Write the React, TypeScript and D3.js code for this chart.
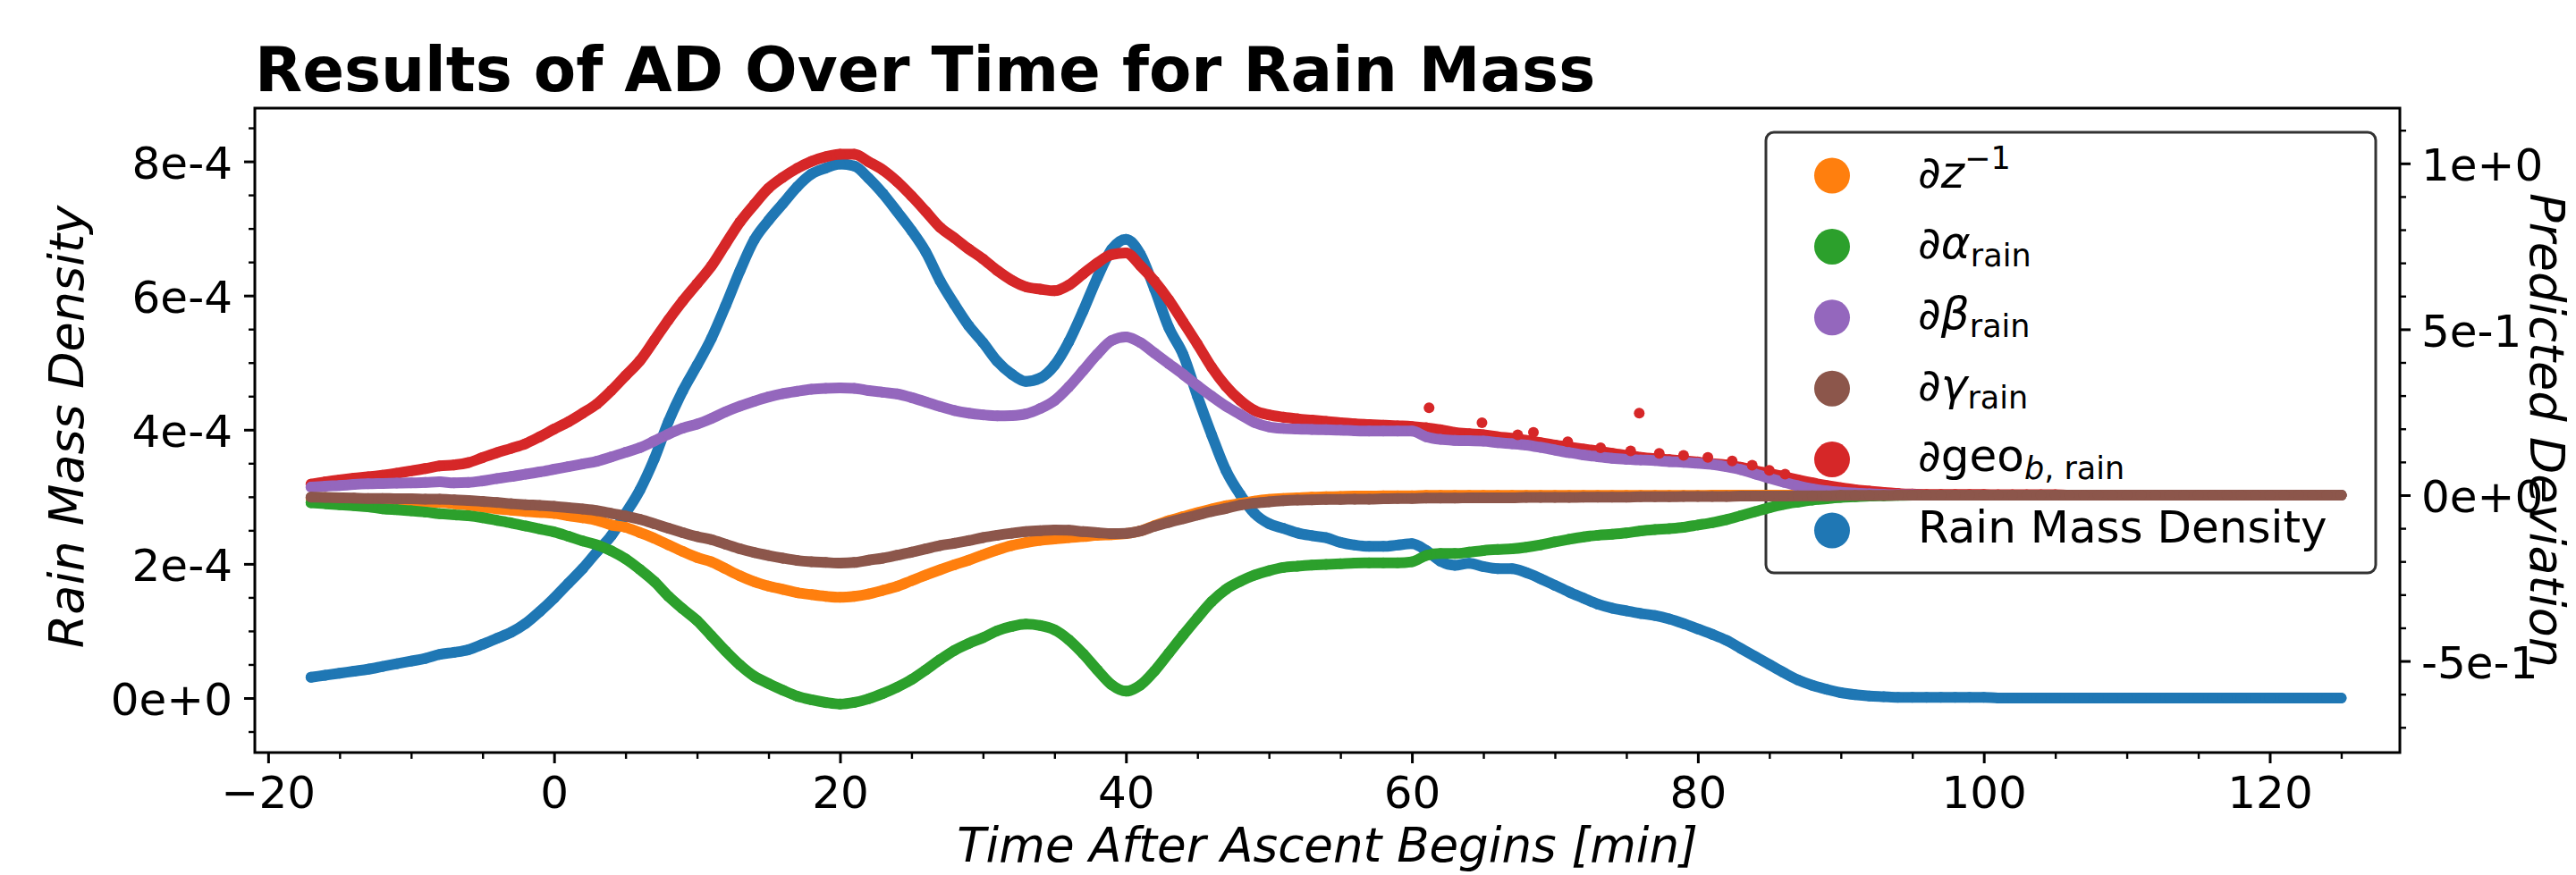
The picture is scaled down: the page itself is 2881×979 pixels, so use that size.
import { useEffect, useRef } from 'react';
import * as d3 from 'd3';

const WIDTH = 2881;
const HEIGHT = 979;
const FONT = '"DejaVu Sans", sans-serif';

// samples every minute, from -17 min to 125 min
const T_START = -17;
const T_STEP = 1;

// Rain mass density, in units of 1e-4 (left axis)
const rainMassDensity = [
  0.31, 0.34, 0.37, 0.40, 0.43, 0.47, 0.51, 0.55, 0.59, 0.65, 0.68, 0.72, 0.80, 0.89, 0.98, 1.11, 1.29, // -17..-1
  1.49, 1.71, 1.93, 2.18, 2.42, 2.75, 3.10, 3.56, 4.12, 4.58, 4.96, 5.36, 5.85, 6.37, 6.83, 7.12, 7.37, 7.62, 7.81, 7.90, 7.96, 7.93, // 0..21
  7.75, 7.52, 7.25, 6.97, 6.65, 6.22, 5.87, 5.55, 5.30, 5.02, 4.83, 4.72, 4.77, 4.96, 5.31, 5.77, 6.27, 6.69, 6.84, // 22..40
  6.62, 6.10, 5.52, 5.12, 4.50, 3.92, 3.39, 3.03, 2.75, 2.60, 2.53, 2.46, 2.42, 2.39, 2.32, 2.28, 2.26, 2.26, 2.28, 2.30, // 41..60
  2.20, 2.04, 1.98, 2.01, 1.96, 1.93, 1.93, 1.87, 1.78, 1.68, 1.58, 1.49, 1.40, 1.34, 1.30, 1.26, 1.23, 1.18, 1.11, 1.03, // 61..80
  0.95, 0.86, 0.74, 0.62, 0.50, 0.38, 0.27, 0.19, 0.13, 0.08, 0.05, 0.03, 0.02, 0.01, 0.01, // 81..95
  0.01, 0.01, 0.01, 0.01, 0.01, 0, 0, 0, 0, 0, 0, 0, 0, 0, 0, 0, 0, 0, 0, 0, 0, 0, 0, 0, 0, 0, 0, 0, 0, 0, // 96..125
];

// Predicted deviations (right axis)
const dInvZ = [
  -0.010, -0.011, -0.012, -0.014, -0.015, -0.017, -0.018, -0.019, -0.020, -0.022, -0.026, -0.030, -0.036, -0.041, -0.045, -0.049, -0.052,
  -0.055, -0.062, -0.068, -0.076, -0.090, -0.097, -0.113, -0.130, -0.150, -0.170, -0.188, -0.201, -0.222, -0.243, -0.261, -0.274, -0.284, -0.294, -0.300, -0.305, -0.308, -0.305,
  -0.298, -0.287, -0.275, -0.258, -0.241, -0.225, -0.210, -0.196, -0.180, -0.165, -0.152, -0.143, -0.136, -0.132, -0.128, -0.125, -0.121, -0.119, -0.116,
  -0.108, -0.092, -0.077, -0.065, -0.053, -0.042, -0.032, -0.025, -0.018, -0.013, -0.010, -0.008, -0.006, -0.005, -0.004, -0.003, -0.003, -0.002, -0.002, -0.002,
  -0.001, -0.001, -0.001, -0.001, -0.001, -0.001, -0.001, -0.001, -0.001, -0.001, -0.001, -0.001, -0.001, -0.001, -0.001, -0.001, -0.001, -0.001, -0.001, -0.001,
  0, 0, 0, 0, 0, 0, 0, 0, 0, 0, 0, 0, 0, 0, 0,
  0, 0, 0, 0, 0, 0, 0, 0, 0, 0, 0, 0, 0, 0, 0, 0, 0, 0, 0, 0, 0, 0, 0, 0, 0, 0, 0, 0, 0, 0,
];

const dAlpha = [
  -0.023, -0.026, -0.029, -0.032, -0.035, -0.041, -0.044, -0.047, -0.051, -0.056, -0.059, -0.062, -0.068, -0.076, -0.084, -0.093, -0.102,
  -0.111, -0.124, -0.138, -0.150, -0.168, -0.192, -0.224, -0.260, -0.305, -0.343, -0.378, -0.424, -0.470, -0.512, -0.546, -0.568, -0.588, -0.606, -0.617, -0.625, -0.630, -0.625,
  -0.614, -0.598, -0.579, -0.556, -0.527, -0.496, -0.468, -0.447, -0.430, -0.409, -0.396, -0.389, -0.393, -0.406, -0.436, -0.478, -0.527, -0.572, -0.591,
  -0.573, -0.530, -0.476, -0.422, -0.370, -0.321, -0.284, -0.260, -0.241, -0.228, -0.218, -0.214, -0.211, -0.209, -0.207, -0.205, -0.204, -0.204, -0.204, -0.201,
  -0.182, -0.176, -0.176, -0.172, -0.167, -0.164, -0.162, -0.157, -0.150, -0.141, -0.133, -0.126, -0.121, -0.118, -0.114, -0.108, -0.104, -0.101, -0.097, -0.090,
  -0.083, -0.074, -0.062, -0.050, -0.038, -0.028, -0.021, -0.015, -0.011, -0.007, -0.005, -0.003, -0.002, -0.001, 0,
  0, 0, 0, 0, 0, 0, 0, 0, 0, 0, 0, 0, 0, 0, 0, 0, 0, 0, 0, 0, 0, 0, 0, 0, 0, 0, 0, 0, 0, 0,
];

const dBeta = [
  0.024, 0.027, 0.029, 0.032, 0.034, 0.035, 0.036, 0.037, 0.038, 0.040, 0.037, 0.038, 0.043, 0.050, 0.056, 0.063, 0.070,
  0.078, 0.086, 0.094, 0.102, 0.115, 0.129, 0.143, 0.163, 0.184, 0.202, 0.214, 0.231, 0.251, 0.268, 0.283, 0.296, 0.306, 0.313, 0.319, 0.322, 0.323, 0.322,
  0.315, 0.310, 0.305, 0.294, 0.281, 0.267, 0.255, 0.247, 0.242, 0.239, 0.240, 0.245, 0.261, 0.285, 0.326, 0.375, 0.425, 0.466, 0.477,
  0.460, 0.428, 0.396, 0.364, 0.330, 0.298, 0.268, 0.243, 0.219, 0.206, 0.201, 0.199, 0.198, 0.197, 0.196, 0.194, 0.193, 0.193, 0.193, 0.193,
  0.176, 0.168, 0.165, 0.164, 0.163, 0.158, 0.155, 0.151, 0.144, 0.136, 0.128, 0.121, 0.116, 0.111, 0.108, 0.106, 0.104, 0.101, 0.099, 0.096,
  0.093, 0.086, 0.077, 0.064, 0.051, 0.039, 0.028, 0.019, 0.013, 0.009, 0.006, 0.004, 0.002, 0.001, 0.001,
  0, 0, 0, 0, 0, 0, 0, 0, 0, 0, 0, 0, 0, 0, 0, 0, 0, 0, 0, 0, 0, 0, 0, 0, 0, 0, 0, 0, 0, 0,
];

const dGamma = [
  -0.006, -0.007, -0.008, -0.009, -0.010, -0.010, -0.011, -0.011, -0.012, -0.012, -0.014, -0.016, -0.019, -0.022, -0.026, -0.029, -0.031,
  -0.034, -0.038, -0.042, -0.047, -0.055, -0.063, -0.073, -0.086, -0.100, -0.113, -0.125, -0.134, -0.148, -0.162, -0.173, -0.182, -0.190, -0.197, -0.201, -0.203, -0.205, -0.203,
  -0.196, -0.190, -0.181, -0.172, -0.162, -0.152, -0.145, -0.137, -0.128, -0.121, -0.115, -0.110, -0.107, -0.105, -0.106, -0.110, -0.113, -0.116, -0.115,
  -0.108, -0.094, -0.082, -0.071, -0.060, -0.049, -0.040, -0.030, -0.024, -0.020, -0.017, -0.015, -0.014, -0.013, -0.013, -0.012, -0.012, -0.011, -0.010, -0.010,
  -0.009, -0.009, -0.009, -0.008, -0.008, -0.008, -0.008, -0.007, -0.007, -0.007, -0.007, -0.006, -0.006, -0.006, -0.006, -0.005, -0.005, -0.005, -0.004, -0.004,
  -0.004, -0.004, -0.003, -0.003, -0.003, -0.003, -0.002, -0.002, -0.002, -0.001, -0.001, -0.001, -0.001, 0, 0,
  0, 0, 0, 0, 0, 0, 0, 0, 0, 0, 0, 0, 0, 0, 0, 0, 0, 0, 0, 0, 0, 0, 0, 0, 0, 0, 0, 0, 0, 0,
];

const dGeo = [
  0.033, 0.040, 0.046, 0.051, 0.055, 0.060, 0.066, 0.073, 0.080, 0.088, 0.091, 0.098, 0.113, 0.128, 0.141, 0.155, 0.176,
  0.199, 0.221, 0.247, 0.275, 0.315, 0.360, 0.405, 0.466, 0.528, 0.585, 0.637, 0.690, 0.757, 0.823, 0.876, 0.925, 0.958, 0.985, 1.006, 1.020, 1.028, 1.028,
  1.005, 0.980, 0.945, 0.902, 0.855, 0.807, 0.775, 0.742, 0.712, 0.677, 0.648, 0.628, 0.621, 0.616, 0.633, 0.667, 0.700, 0.725, 0.730,
  0.692, 0.645, 0.588, 0.522, 0.455, 0.385, 0.328, 0.285, 0.255, 0.242, 0.235, 0.230, 0.226, 0.222, 0.218, 0.215, 0.213, 0.211, 0.209, 0.207,
  0.203, 0.197, 0.189, 0.185, 0.182, 0.176, 0.171, 0.165, 0.158, 0.151, 0.145, 0.139, 0.133, 0.126, 0.120, 0.114, 0.110, 0.107, 0.104, 0.100,
  0.095, 0.091, 0.084, 0.074, 0.065, 0.056, 0.046, 0.037, 0.029, 0.022, 0.016, 0.012, 0.008, 0.005, 0.003,
  0.002, 0.002, 0.002, 0.002, 0.002, 0.001, 0.001, 0.001, 0.001, 0.001, 0, 0, 0, 0, 0, 0, 0, 0, 0, 0, 0, 0, 0, 0, 0, 0, 0, 0, 0, 0,
];

// stray dGeo points sitting above its band: [time, value]
const geoStrays = [
  [61.2, 0.263], [64.9, 0.218], [67.4, 0.182], [68.5, 0.189], [70.9, 0.161], [73.2, 0.143], [75.3, 0.133],
  [75.9, 0.247], [77.3, 0.126], [79.0, 0.120], [80.7, 0.114], [82.4, 0.103], [83.8, 0.090], [85.0, 0.075], [86.1, 0.063],
];

const xTicks = [-20, 0, 20, 40, 60, 80, 100, 120];
const leftTicks = [0, 2, 4, 6, 8];
const leftTickLabels = ['0e+0', '2e-4', '4e-4', '6e-4', '8e-4'];
const rightTicks = [-0.5, 0, 0.5, 1];
const rightTickLabels = ['-5e-1', '0e+0', '5e-1', '1e+0'];

const COLORS = {
  z: '#ff7f0e',
  alpha: '#2ca02c',
  beta: '#9467bd',
  gamma: '#8c564b',
  geo: '#d62728',
  rain: '#1f77b4',
};

// drawing order of the twin-axis series (last one on top)
const deviationSeries = [
  { values: dGeo, color: COLORS.geo },
  { values: dInvZ, color: COLORS.z },
  { values: dAlpha, color: COLORS.alpha },
  { values: dBeta, color: COLORS.beta },
  { values: dGamma, color: COLORS.gamma },
];

const legendItems = [
  { color: COLORS.z, parts: [{ t: '∂' }, { t: 'z', i: true }, { t: '−1', s: 'sup' }] },
  { color: COLORS.alpha, parts: [{ t: '∂' }, { t: 'α', i: true }, { t: 'rain', s: 'sub' }] },
  { color: COLORS.beta, parts: [{ t: '∂' }, { t: 'β', i: true }, { t: 'rain', s: 'sub' }] },
  { color: COLORS.gamma, parts: [{ t: '∂' }, { t: 'γ', i: true }, { t: 'rain', s: 'sub' }] },
  { color: COLORS.geo, parts: [{ t: '∂geo' }, { t: 'b', i: true, s: 'sub' }, { t: ', rain', s: 'sub' }] },
  { color: COLORS.rain, parts: [{ t: 'Rain Mass Density' }] },
];

const App = () => {
  const svgRef = useRef(null);

  useEffect(() => {
    document.body.style.margin = '0';
    document.body.style.overflow = 'hidden';

    const svg = d3.select(svgRef.current);
    svg.selectAll('*').remove();

    const left = 285, right = 2684, top = 121, bottom = 842;

    const x = d3.scaleLinear().domain([-20.93, 129.1]).range([left, right]);
    const yLeft = d3.scaleLinear().domain([-0.813, 8.794]).range([bottom, top]);
    const yRight = d3.scaleLinear().domain([-0.776, 1.1665]).range([bottom, top]);

    const drawSeries = (values, y, color) => {
      const pts = values.map((v, i) => [T_START + i * T_STEP, v]);
      const g = svg.append('g');
      g.append('path')
        .datum(pts)
        .attr('d', d3.line().x(d => x(d[0])).y(d => y(d[1])).curve(d3.curveMonotoneX))
        .attr('fill', 'none')
        .attr('stroke', color)
        .attr('stroke-width', 12)
        .attr('stroke-linecap', 'round')
        .attr('stroke-linejoin', 'round');
      g.selectAll('circle')
        .data(pts)
        .join('circle')
        .attr('cx', d => x(d[0]))
        .attr('cy', d => y(d[1]))
        .attr('r', 6)
        .attr('fill', color);
    };

    // left axes data first
    drawSeries(rainMassDensity, yLeft, COLORS.rain);

    // legend belongs to the left axes, so the twin data goes over it
    const legend = svg.append('g');
    legend.append('rect')
      .attr('x', 1975).attr('y', 148)
      .attr('width', 682).attr('height', 493)
      .attr('rx', 9)
      .attr('fill', '#fff').attr('fill-opacity', 0.8)
      .attr('stroke', '#000').attr('stroke-opacity', 0.8).attr('stroke-width', 3);

    legendItems.forEach((item, i) => {
      const cy = 196.5 + i * 79.4;
      legend.append('circle').attr('cx', 2049).attr('cy', cy).attr('r', 20).attr('fill', item.color);
      const text = legend.append('text')
        .attr('x', 2145).attr('y', cy + 13)
        .attr('font-family', FONT).attr('font-size', 50).attr('fill', '#000');
      let shift = 0;
      item.parts.forEach(p => {
        const target = p.s === 'sub' ? 9 : p.s === 'sup' ? -21 : 0;
        const span = text.append('tspan').text(p.t).attr('dy', target - shift);
        shift = target;
        if (p.s) span.attr('font-size', 35);
        if (p.i) span.attr('font-style', 'italic');
      });
    });

    deviationSeries.forEach(s => drawSeries(s.values, yRight, s.color));

    svg.append('g').selectAll('circle')
      .data(geoStrays)
      .join('circle')
      .attr('cx', d => x(d[0]))
      .attr('cy', d => yRight(d[1]))
      .attr('r', 6)
      .attr('fill', COLORS.geo);

    // axes
    const styleAxis = (g, width) => {
      g.select('.domain').remove();
      g.attr('font-family', FONT).attr('font-size', 50);
      g.selectAll('line').attr('stroke', '#000').attr('stroke-width', width);
      g.selectAll('text').attr('fill', '#000');
    };

    const xMinor = d3.range(-20, 130, 5).filter(v => v % 20 !== 0);
    const leftMinor = d3.range(-0.5, 8.8, 0.5).filter(v => Math.abs(v % 2) > 1e-9);
    const rightMinor = d3.range(-7, 12, 1).map(v => v / 10).filter(v => Math.abs((v * 10) % 5) > 1e-9);

    svg.append('g')
      .attr('transform', `translate(0,${bottom})`)
      .call(d3.axisBottom(x).tickValues(xMinor).tickSize(7).tickFormat(() => ''))
      .call(g => styleAxis(g, 2.4));
    svg.append('g')
      .attr('transform', `translate(0,${bottom})`)
      .call(d3.axisBottom(x).tickValues(xTicks).tickSize(12).tickPadding(14).tickFormat(d3.format('d')))
      .call(g => styleAxis(g, 3));

    svg.append('g')
      .attr('transform', `translate(${left},0)`)
      .call(d3.axisLeft(yLeft).tickValues(leftMinor).tickSize(7).tickFormat(() => ''))
      .call(g => styleAxis(g, 2.4));
    svg.append('g')
      .attr('transform', `translate(${left},0)`)
      .call(d3.axisLeft(yLeft).tickValues(leftTicks).tickSize(12).tickPadding(13)
        .tickFormat((d, i) => leftTickLabels[i]))
      .call(g => styleAxis(g, 3))
      .call(g => g.selectAll('text').attr('dy', '0.38em'));

    svg.append('g')
      .attr('transform', `translate(${right},0)`)
      .call(d3.axisRight(yRight).tickValues(rightMinor).tickSize(7).tickFormat(() => ''))
      .call(g => styleAxis(g, 2.4));
    svg.append('g')
      .attr('transform', `translate(${right},0)`)
      .call(d3.axisRight(yRight).tickValues(rightTicks).tickSize(12).tickPadding(12)
        .tickFormat((d, i) => rightTickLabels[i]))
      .call(g => styleAxis(g, 3))
      .call(g => g.selectAll('text').attr('dy', '0.38em'));

    // frame
    svg.append('rect')
      .attr('x', left).attr('y', top)
      .attr('width', right - left).attr('height', bottom - top)
      .attr('fill', 'none').attr('stroke', '#000').attr('stroke-width', 3);

    // labels
    svg.append('text')
      .attr('x', left).attr('y', 102)
      .attr('font-family', FONT).attr('font-size', 69).attr('font-weight', 'bold')
      .text('Results of AD Over Time for Rain Mass');

    svg.append('text')
      .attr('x', (left + right) / 2).attr('y', 964)
      .attr('text-anchor', 'middle')
      .attr('font-family', FONT).attr('font-size', 53).attr('font-style', 'italic')
      .text('Time After Ascent Begins [min]');

    svg.append('text')
      .attr('transform', `translate(93,${(top + bottom) / 2 - 4}) rotate(-90)`)
      .attr('text-anchor', 'middle')
      .attr('font-family', FONT).attr('font-size', 54).attr('font-style', 'italic')
      .text('Rain Mass Density');

    svg.append('text')
      .attr('transform', `translate(2830,${(top + bottom) / 2}) rotate(90)`)
      .attr('text-anchor', 'middle')
      .attr('font-family', FONT).attr('font-size', 54).attr('font-style', 'italic')
      .text('Predicted Deviation');
  }, []);

  return (
    <svg
      ref={svgRef}
      width={WIDTH}
      height={HEIGHT}
      viewBox={`0 0 ${WIDTH} ${HEIGHT}`}
      style={{ position: 'absolute', left: 0, top: 0, background: '#fff' }}
    />
  );
};

export default App;
